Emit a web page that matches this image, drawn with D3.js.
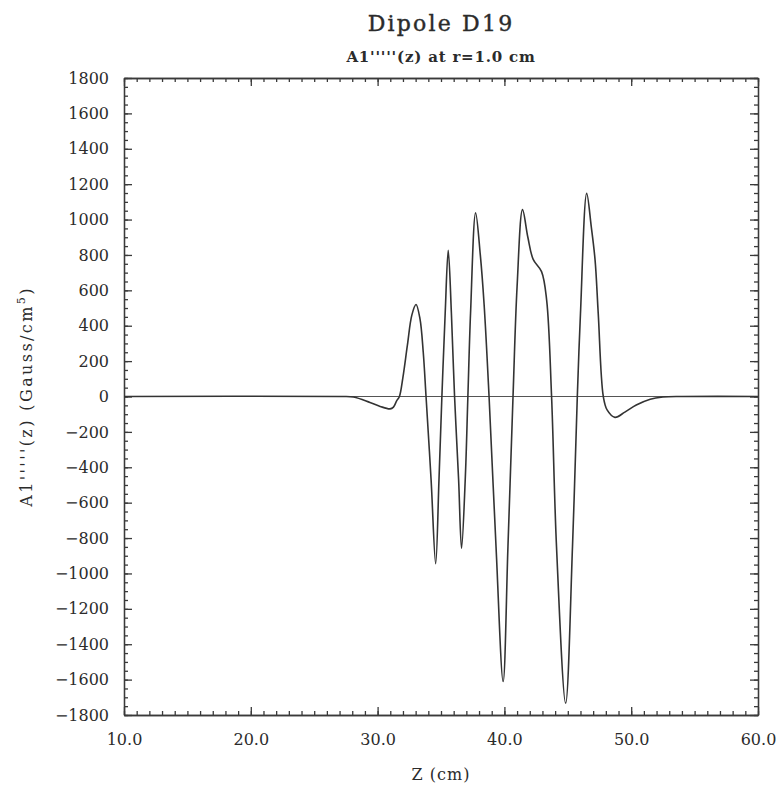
<!DOCTYPE html>
<html>
<head>
<meta charset="utf-8">
<script src="https://cdn.jsdelivr.net/npm/d3@7"></script>
<style>
  body { margin: 0; background: #fff; }
  text { font-family: "DejaVu Serif", serif; fill: #2b2b2b; }
</style>
</head>
<body>
<svg id="container" width="781" height="786"></svg>
<script>
(function (d3) {
  'use strict';

  // values: z in cm, A1'''''(z) in Gauss/cm^5
  const zValues = [
    10, 27, 28.1, 29.4, 30.2, 30.98, 31.25, 31.5, 31.72,
    32.0, 32.35, 32.7, 33.03, 33.34, 33.6, 33.82,
    34.22, 34.58, 34.84, 35.07,
    35.33, 35.57, 35.82, 36.07,
    36.39, 36.62, 36.91, 37.12,
    37.33, 37.73, 38.1, 38.4, 38.79,
    39.34, 39.9, 40.28, 40.68,
    41.0, 41.43, 41.85, 42.27, 42.93, 43.33, 43.72,
    44.11, 44.83, 45.37, 45.75,
    46.0, 46.49, 46.85, 47.15, 47.4, 47.8,
    48.1, 48.72, 49.5, 50.4, 51.5, 52.5, 54, 60
  ];
  const aValues = [
    0, 0, -3, -34, -56, -70, -60, -25, 0,
    110, 290, 460, 520, 440, 250, 0,
    -472, -945, -472, 0,
    470, 826, 470, 0,
    -472, -858, -472, 0,
    470, 1038, 800, 520, 0,
    -849, -1611, -849, 0,
    620, 1056, 900, 775, 706, 546, 0,
    -849, -1734, -849, 0,
    470, 1148, 960, 772, 470, 0,
    -76, -118, -88, -48, -15, -3, 0, 0
  ];

  const xMajorTicks = [10, 20, 30, 40, 50, 60];
  const xMinorTicks = d3.range(10, 61, 1);
  const yMajorTicks = d3.range(-1800, 1801, 200);
  const yMinorTicks = d3.range(-1800, 1801, 50);

  const TITLE = 'Dipole D19';
  const SUBTITLE = "A1'''''(z) at r=1.0 cm";
  const X_LABEL = 'Z (cm)';

  const data = zValues.map((z, i) => ({ z, a: aValues[i] }));

  const svg = d3.select('#container');
  const left = 124;
  const right = 758;
  const top = 78;
  const bottom = 715;
  const INK = '#3a3a3a';

  const x = d3.scaleLinear().domain([10, 60]).range([left, right]);
  const y = d3.scaleLinear().domain([-1800, 1800]).range([bottom, top]);

  const styleAxis = (g) => {
    g.selectAll('path, line').attr('stroke', INK).attr('stroke-width', 1.3);
    g.selectAll('text').attr('font-size', 16).attr('fill', '#262626')
      .attr('font-family', '"DejaVu Serif", serif');
  };

  // minor ticks first, majors drawn on top
  const minor = (axis, values) => axis.tickValues(values).tickSize(-4).tickFormat('').tickSizeOuter(0);

  svg.append('g').attr('transform', `translate(0,${bottom})`)
    .call(minor(d3.axisBottom(x), xMinorTicks)).call(styleAxis);
  svg.append('g').attr('transform', `translate(0,${top})`)
    .call(minor(d3.axisTop(x), xMinorTicks)).call(styleAxis);
  svg.append('g').attr('transform', `translate(${left},0)`)
    .call(minor(d3.axisLeft(y), yMinorTicks)).call(styleAxis);
  svg.append('g').attr('transform', `translate(${right},0)`)
    .call(minor(d3.axisRight(y), yMinorTicks)).call(styleAxis);

  svg.append('g').attr('transform', `translate(0,${bottom})`)
    .call(d3.axisBottom(x).tickValues(xMajorTicks).tickSize(-8).tickSizeOuter(0)
      .tickPadding(19).tickFormat(d3.format('.1f')))
    .call(styleAxis);
  svg.append('g').attr('transform', `translate(0,${top})`)
    .call(d3.axisTop(x).tickValues(xMajorTicks).tickSize(-8).tickSizeOuter(0).tickFormat(''))
    .call(styleAxis);
  svg.append('g').attr('transform', `translate(${left},0)`)
    .call(d3.axisLeft(y).tickValues(yMajorTicks).tickSize(-8).tickSizeOuter(0)
      .tickPadding(15).tickFormat((d) => d < 0 ? '\u2212' + Math.abs(d) : d))
    .call(styleAxis);
  svg.append('g').attr('transform', `translate(${right},0)`)
    .call(d3.axisRight(y).tickValues(yMajorTicks).tickSize(-8).tickSizeOuter(0).tickFormat(''))
    .call(styleAxis);

  // zero line
  svg.append('line')
    .attr('x1', x(10)).attr('x2', x(60))
    .attr('y1', y(0)).attr('y2', y(0))
    .attr('stroke', '#555').attr('stroke-width', 1);

  const line = d3.line()
    .x((d) => x(d.z))
    .y((d) => y(d.a))
    .curve(d3.curveCatmullRom.alpha(0.5));

  svg.append('path')
    .datum(data)
    .attr('fill', 'none')
    .attr('stroke', '#333')
    .attr('stroke-width', 1.6)
    .attr('d', line);

  const midX = (left + right) / 2;

  svg.append('text')
    .attr('x', midX).attr('y', 31)
    .attr('text-anchor', 'middle')
    .attr('font-size', 22)
    .attr('letter-spacing', 2.2)
    .attr('stroke', '#2b2b2b').attr('stroke-width', 0.4)
    .text(TITLE);

  svg.append('text')
    .attr('x', midX).attr('y', 62)
    .attr('text-anchor', 'middle')
    .attr('font-size', 15)
    .attr('font-weight', 'bold')
    .attr('letter-spacing', 0.8)
    .text(SUBTITLE);

  svg.append('text')
    .attr('x', midX).attr('y', 780)
    .attr('text-anchor', 'middle')
    .attr('font-size', 16)
    .attr('letter-spacing', 1)
    .text(X_LABEL);

  const yLabel = svg.append('text')
    .attr('transform', `translate(32,${(top + bottom) / 2}) rotate(-90)`)
    .attr('text-anchor', 'middle')
    .attr('font-size', 16)
    .attr('letter-spacing', 2.4);
  yLabel.append('tspan').text("A1'''''(z) (Gauss/cm");
  yLabel.append('tspan').attr('dy', -7).attr('font-size', 11).text('5');
  yLabel.append('tspan').attr('dy', 7).text(')');

}(d3));
</script>
</body>
</html>
